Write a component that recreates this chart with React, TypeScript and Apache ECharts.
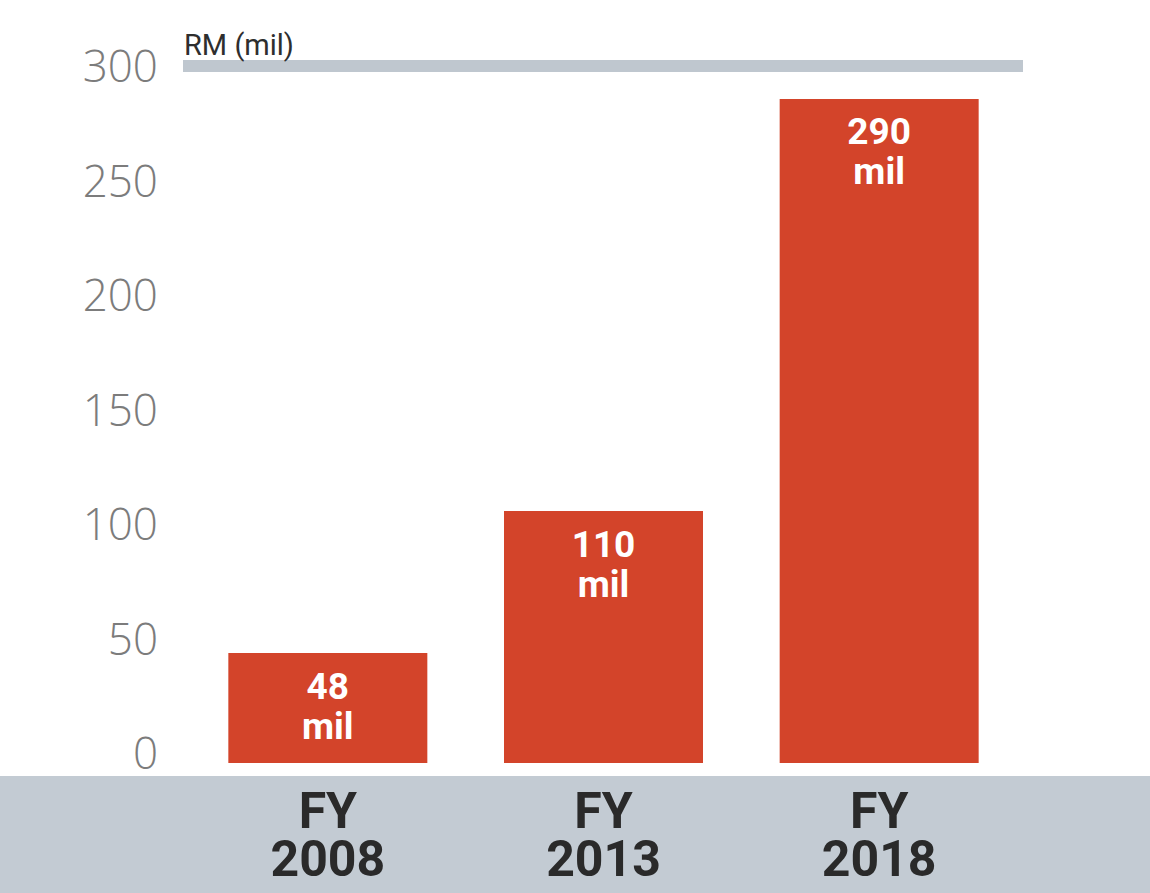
import React, { useEffect, useRef } from "react";
import * as echarts from "echarts";

const categories = ["FY\n2008", "FY\n2013", "FY\n2018"];
const values = [48, 110, 290];
const yTicks = [0, 50, 100, 150, 200, 250, 300];
const unitLabel = "RM (mil)";

export default function App() {
  const ref = useRef<HTMLDivElement>(null);
  useEffect(() => {
    if (!ref.current) return;
    const chart = echarts.init(ref.current, null, { renderer: "svg" });
    chart.setOption({
      animation: false,
      backgroundColor: "#ffffff",
      grid: { left: 190, right: 133, top: 76, bottom: 130 },
      graphic: [
        { type: "rect", z: 0, shape: { x: 0, y: 776, width: 1150, height: 117 }, style: { fill: "#c3cbd3" } },
        { type: "rect", z: 0, shape: { x: 183, y: 60, width: 840, height: 12 }, style: { fill: "#bfc7cf" } },
        {
          type: "text", z: 5, x: 184, y: 30,
          style: {
            text: unitLabel,
            fontSize: 29,
            fontFamily: "Roboto",
            fill: "#2e2e2e",
          },
        },
      ],
      xAxis: {
        type: "category",
        data: categories,
        axisLine: { show: false },
        axisTick: { show: false },
        axisLabel: {
          margin: 24,
          fontSize: 50,
          lineHeight: 48,
          fontWeight: "bold",
          fontFamily: "Roboto",
          color: "#2a2a2a",
        },
      },
      yAxis: {
        type: "value",
        min: yTicks[0],
        max: yTicks[yTicks.length - 1],
        interval: 50,
        splitLine: { show: false },
        axisLine: { show: false },
        axisTick: { show: false },
        axisLabel: {
          margin: 32,
          fontSize: 44,
          lineHeight: 22,
          verticalAlign: "bottom",
          fontWeight: 300,
          fontFamily: "Open Sans",
          color: "#7c7c7c",
        },
      },
      series: [
        {
          type: "bar",
          data: values,
          barWidth: 199,
          itemStyle: { color: "#d3442a" },
          label: {
            show: true,
            position: "insideTop",
            distance: 13,
            formatter: "{c}\nmil",
            color: "#ffffff",
            fontSize: 37,
            lineHeight: 40,
            fontWeight: "bold",
            fontFamily: "Roboto",
          },
        },
      ],
    });
    return () => chart.dispose();
  }, []);
  return (
    <div
      ref={ref}
      style={{ position: "fixed", left: 0, top: 0, width: 1150, height: 893 }}
    />
  );
}
